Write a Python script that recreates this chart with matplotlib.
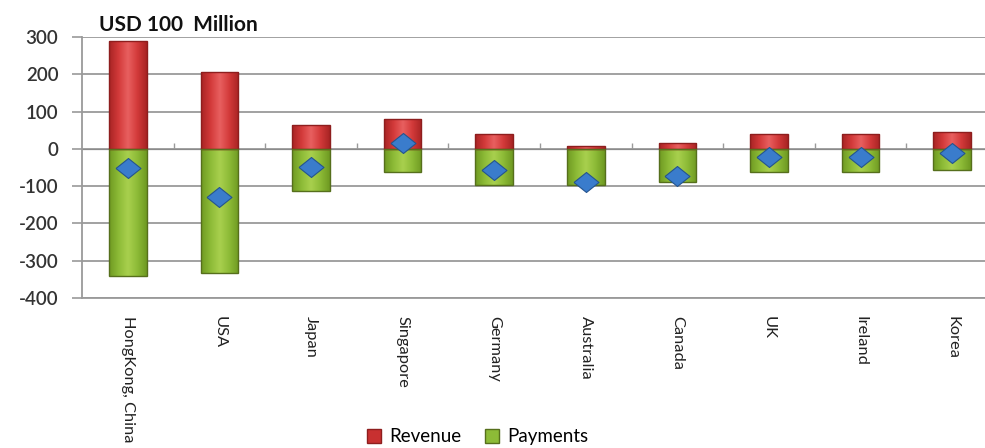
# Revenue vs. payments by partner economy, with net balance markers
import matplotlib
matplotlib.use("Agg")
from matplotlib import pyplot as plt
from matplotlib.colors import LinearSegmentedColormap
from matplotlib.patches import Patch
import numpy as np

countries = ["HongKong, China", "USA", "Japan", "Singapore", "Germany",
             "Australia", "Canada", "UK", "Ireland", "Korea"]
revenue = [288, 206, 64, 80, 40, 9, 16, 40, 40, 45]
payments = [-340, -334, -113, -63, -97, -98, -89, -63, -61, -56]
y_ticks = [300, 200, 100, 0, -100, -200, -300, -400]

plt.rcParams["font.family"] = ["Lato", "DejaVu Sans"]

red = "#d33a3a"
green = "#8dbb37"
blue = "#3a7ccc"
grid_col = "#9a9a9a"

fig = plt.figure(figsize=(9.85, 4.48), dpi=100)
ax = fig.add_axes([82 / 985, 150 / 448, 916 / 985, 261 / 448])

x = np.arange(len(countries))
width = 0.41
net = np.array(revenue) + np.array(payments)


def shade(bars, base, dark, light):
    # Bevel-like horizontal gradient clipped to each bar
    cmap = LinearSegmentedColormap.from_list("s", [dark, base, light, base, dark])
    grad = np.linspace(0, 1, 64).reshape(1, -1)
    for b in bars:
        x0, y0 = b.get_x(), b.get_y()
        w, h = b.get_width(), b.get_height()
        im = ax.imshow(grad, cmap=cmap, aspect="auto", zorder=2.5,
                       extent=(x0, x0 + w, y0, y0 + h), interpolation="bicubic")
        im.set_clip_path(b)


rev_bars = ax.bar(x, revenue, width, color=red, edgecolor="#8e1e1e",
                  linewidth=1.0, zorder=3)
pay_bars = ax.bar(x, payments, width, color=green, edgecolor="#566f1c",
                  linewidth=1.0, zorder=3)
shade(rev_bars, red, "#a82424", "#e86060")
shade(pay_bars, green, "#6f9a22", "#a9d04e")
for b in list(rev_bars) + list(pay_bars):
    b.set_facecolor("none")
    b.set_zorder(4)

diamond = [(-1, 0), (0, 0.8), (1, 0), (0, -0.8), (-1, 0)]
ax.plot(x, net, linestyle="none", marker=diamond, markersize=18,
        markerfacecolor=blue, markeredgecolor="#24548f", markeredgewidth=0.8,
        zorder=5)

ax.set_xlim(-0.5, len(countries) - 0.5)
ax.set_ylim(-400, 300)
ax.set_yticks(y_ticks)
ax.set_yticklabels([str(v) for v in y_ticks])
ax.yaxis.grid(True, color=grid_col, linewidth=1.3, zorder=0)
ax.set_axisbelow(True)

ax.tick_params(axis="y", length=7, color=grid_col, width=1.2, pad=10,
               labelsize=13.5, labelcolor="#333333")
for lbl in ax.get_yticklabels():
    lbl.set_fontweight("semibold")

ax.set_xticks(x)
ax.set_xticklabels(countries, rotation=270, va="top", ha="center",
                   fontsize=11.8, color="#222222")
ax.tick_params(axis="x", length=0, pad=13)

for side in ["top", "right"]:
    ax.spines[side].set_visible(False)
ax.spines["left"].set_color(grid_col)
ax.spines["bottom"].set_color(grid_col)
ax.spines["left"].set_linewidth(1.3)
ax.spines["bottom"].set_linewidth(1.3)

# small category separators on the zero line
lo, hi = ax.get_ylim()
sec = ax.secondary_xaxis((0 - lo) / (hi - lo))
sec.set_xticks(x[:-1] + 0.5)
sec.set_xticklabels([])
sec.tick_params(direction="out", length=4, color=grid_col, width=1.0)
sec.spines["bottom"].set_visible(False)

fig.text(0.101, 0.944, "USD 100  Million", fontsize=15, fontweight="bold",
         color="#111111", va="center", ha="left")

handles = [Patch(facecolor="#c83030", edgecolor="#8e1e1e", label="Revenue"),
           Patch(facecolor="#8dbb37", edgecolor="#566f1c", label="Payments")]
fig.legend(handles=handles, loc="center", bbox_to_anchor=(0.485, 0.025),
           ncol=2, frameon=False, fontsize=13.5, handlelength=0.75,
           handleheight=0.75, handletextpad=0.4, columnspacing=1.3)

fig.savefig("out.png", dpi=100)
